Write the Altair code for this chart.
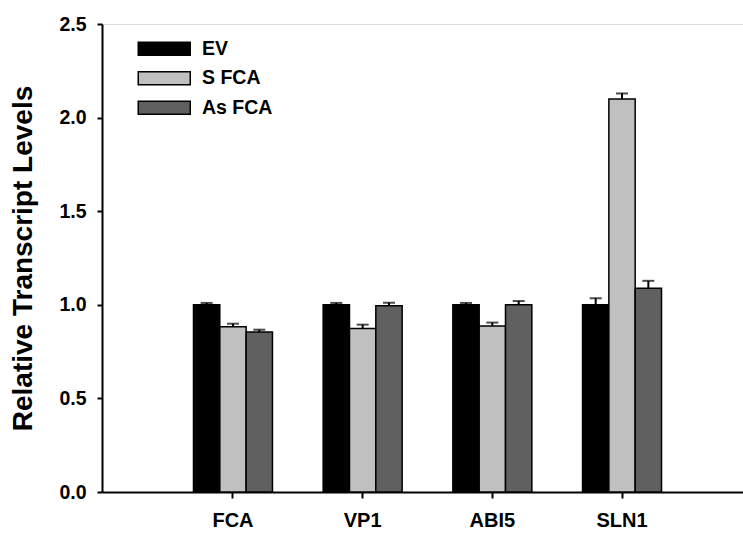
import altair as alt
import pandas as pd

genes = ["FCA", "VP1", "ABI5", "SLN1"]
groups = ["EV", "S FCA", "As FCA"]
ev_vals = [1.00, 1.00, 1.00, 1.00]
ev_err = [0.010, 0.010, 0.010, 0.035]
s_vals = [0.883, 0.874, 0.887, 2.099]
s_err = [0.016, 0.020, 0.018, 0.030]
as_vals = [0.855, 0.995, 1.000, 1.088]
as_err = [0.012, 0.016, 0.020, 0.040]
colors = ["#000000", "#c0c0c0", "#606060"]
y_ticks = [0.0, 0.5, 1.0, 1.5, 2.0, 2.5]

rows = []
for g, vals, errs in zip(groups, [ev_vals, s_vals, as_vals], [ev_err, s_err, as_err]):
    for gene, v, e in zip(genes, vals, errs):
        rows.append({"gene": gene, "group": g, "value": v, "upper": v + e})
df = pd.DataFrame(rows)

FONT = "Liberation Sans"

x_enc = alt.X(
    "gene:N",
    sort=genes,
    scale=alt.Scale(range=[0, 651], paddingInner=0.391, paddingOuter=0.7055),
    axis=alt.Axis(
        title=None, labelAngle=0, labelFontSize=20, labelFontWeight="bold",
        labelFont=FONT, labelColor="black", tickSize=6, tickWidth=2,
        tickColor="black", domainWidth=2, domainColor="black", labelPadding=12,
        grid=False,
    ),
)
xoff = alt.XOffset("group:N", sort=groups)

base = alt.Chart(df)

bars = base.mark_bar(stroke="black", strokeWidth=1.5).encode(
    x=x_enc,
    xOffset=xoff,
    y=alt.Y(
        "value:Q",
        scale=alt.Scale(domain=[0, 2.5], nice=False),
        axis=alt.Axis(
            values=y_ticks, format=".1f", title="Relative Transcript Levels",
            titleFontSize=28, titleFontWeight="bold", titleFont=FONT,
            titleColor="black", titleAngle=270, titleX=-79, titleY=234,
            titleBaseline="middle", titleAlign="center",
            labelFontSize=19.5, labelFontWeight="bold", labelFont=FONT,
            labelColor="black", tickSize=5, tickWidth=2, tickColor="black",
            domainWidth=2, domainColor="black", labelPadding=11, grid=False,
        ),
    ),
    color=alt.Color(
        "group:N",
        sort=groups,
        scale=alt.Scale(domain=groups, range=colors),
        legend=alt.Legend(
            title=None, orient="none", legendX=52.5, legendY=15,
            symbolType="M-4,-1H4V1H-4Z", symbolSize=169,
            symbolStrokeColor="black", symbolStrokeWidth=1.5, symbolOpacity=1,
            labelFontSize=19.5, labelFontWeight="bold", labelFont=FONT,
            labelColor="black", labelOffset=28, rowPadding=8.5, padding=0,
        ),
    ),
)

err = base.mark_rule(color="black", strokeWidth=2).encode(
    x=x_enc, xOffset=xoff, y="value:Q", y2="upper:Q"
)
cap = base.mark_tick(color="black", thickness=2, size=12).encode(
    x=x_enc, xOffset=xoff, y="upper:Q"
)

chart = (
    alt.layer(bars, err, cap)
    .properties(
        width=641, height=468,
        autosize=alt.AutoSizeParams(type="none"),
        padding={"left": 102, "top": 24, "right": 0, "bottom": 41},
    )
    .configure_view(stroke=None)
    .configure(background="white")
)

chart.save("out.html", embed_options={"renderer": "svg", "actions": False})
